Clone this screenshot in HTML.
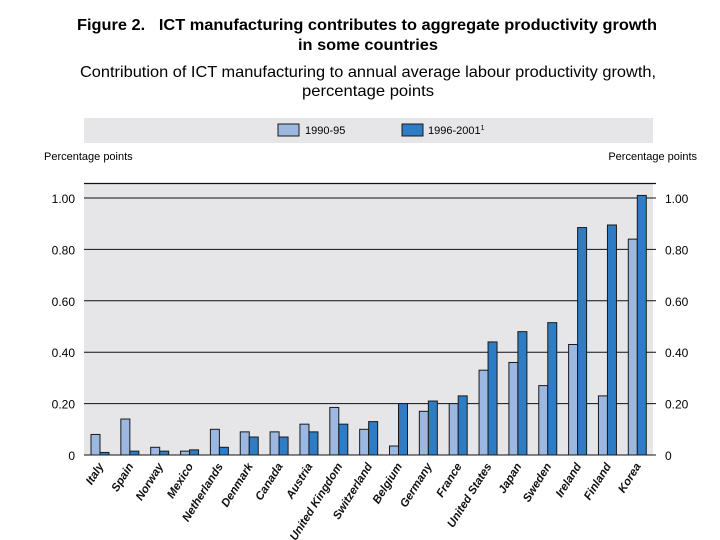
<!DOCTYPE html>
<html><head><meta charset="utf-8"><style>
body{margin:0;background:#fff;}
svg{display:block;font-family:"Liberation Sans",sans-serif;}
</style></head><body>
<svg id="chart" width="720" height="540" viewBox="0 0 720 540">
<text x="367" y="30" text-anchor="middle" font-size="16" font-weight="bold" textLength="580" lengthAdjust="spacingAndGlyphs" xml:space="preserve">Figure 2.   ICT manufacturing contributes to aggregate productivity growth</text>
<text x="368" y="50" text-anchor="middle" font-size="16" font-weight="bold" textLength="140" lengthAdjust="spacingAndGlyphs">in some countries</text>
<text x="368" y="77" text-anchor="middle" font-size="16" textLength="576" lengthAdjust="spacingAndGlyphs">Contribution of ICT manufacturing to annual average labour productivity growth,</text>
<text x="368" y="96" text-anchor="middle" font-size="16" textLength="132" lengthAdjust="spacingAndGlyphs">percentage points</text>
<rect x="84" y="118" width="569" height="25" fill="#e6e6e8"/>
<rect x="278" y="124" width="21" height="12" fill="#9cb8e0" stroke="#1a1a1a" stroke-width="1"/>
<text x="305" y="134" font-size="11">1990-95</text>
<rect x="402" y="124" width="21" height="12" fill="#2e7cc4" stroke="#1a1a1a" stroke-width="1"/>
<text x="428" y="134" font-size="11">1996-2001<tspan font-size="7" dy="-4">1</tspan></text>
<text x="44" y="160" font-size="11">Percentage points</text>
<text x="697" y="160" font-size="11" text-anchor="end">Percentage points</text>
<rect x="84" y="184" width="569" height="271" fill="#e6e6e8"/>
<line x1="84" y1="183.5" x2="656" y2="183.5" stroke="#111" stroke-width="1.2"/>
<g id="grid"></g><g id="bars"></g><g id="labels"></g>
</svg>
<script>
const categories=["Italy","Spain","Norway","Mexico","Netherlands","Denmark","Canada","Austria","United Kingdom","Switzerland","Belgium","Germany","France","United States","Japan","Sweden","Ireland","Finland","Korea"];
const series1990=[0.08,0.14,0.03,0.015,0.10,0.09,0.09,0.12,0.185,0.10,0.035,0.17,0.20,0.33,0.36,0.27,0.43,0.23,0.84];
const series1996=[0.01,0.015,0.015,0.02,0.03,0.07,0.07,0.09,0.12,0.13,0.20,0.21,0.23,0.44,0.48,0.515,0.885,0.895,1.01];
const tickValues=[0,0.2,0.4,0.6,0.8,1.0];
const tickLabels=["0","0.20","0.40","0.60","0.80","1.00"];
const NS="http://www.w3.org/2000/svg";
function y(v){return 455-v*257;}
function xg(i){return 91+i*29.85;}
const BW=9;
function mk(tag,attrs,parent){const e=document.createElementNS(NS,tag);for(const k in attrs)e.setAttribute(k,attrs[k]);parent.appendChild(e);return e;}
const grid=document.getElementById('grid'),bars=document.getElementById('bars'),labels=document.getElementById('labels');
tickValues.forEach((t,i)=>{
 const l=mk('line',{x1:84,x2:656,y1:y(t),y2:y(t),stroke:'#111','stroke-width':1},grid);
 
 
 const a=mk('text',{x:75,y:y(t)+5,'text-anchor':'end','font-size':12},grid);a.textContent=tickLabels[i];
 
 
 const b=mk('text',{x:665,y:y(t)+5,'font-size':12},grid);b.textContent=tickLabels[i];
 
 
});
categories.forEach((c,i)=>{
 const x=xg(i);
 const r1=mk('rect',{x:x,y:y(series1990[i]),width:BW,height:y(0)-y(series1990[i]),fill:'#9cb8e0',stroke:'#1a1a1a','stroke-width':1},bars);
 
 
 const r2=mk('rect',{x:x+BW,y:y(series1996[i]),width:BW,height:y(0)-y(series1996[i]),fill:'#2e7cc4',stroke:'#1a1a1a','stroke-width':1},bars);
 
 
 const cx=x+BW+4;
 const t=mk('text',{x:cx,y:466,'text-anchor':'end','font-size':11.5,'font-style':'italic','font-weight':'bold',transform:`rotate(-58 ${cx} 466)`,fill:'#111'},labels);
 t.textContent=c;
 
 
});
</script>
</body></html>
